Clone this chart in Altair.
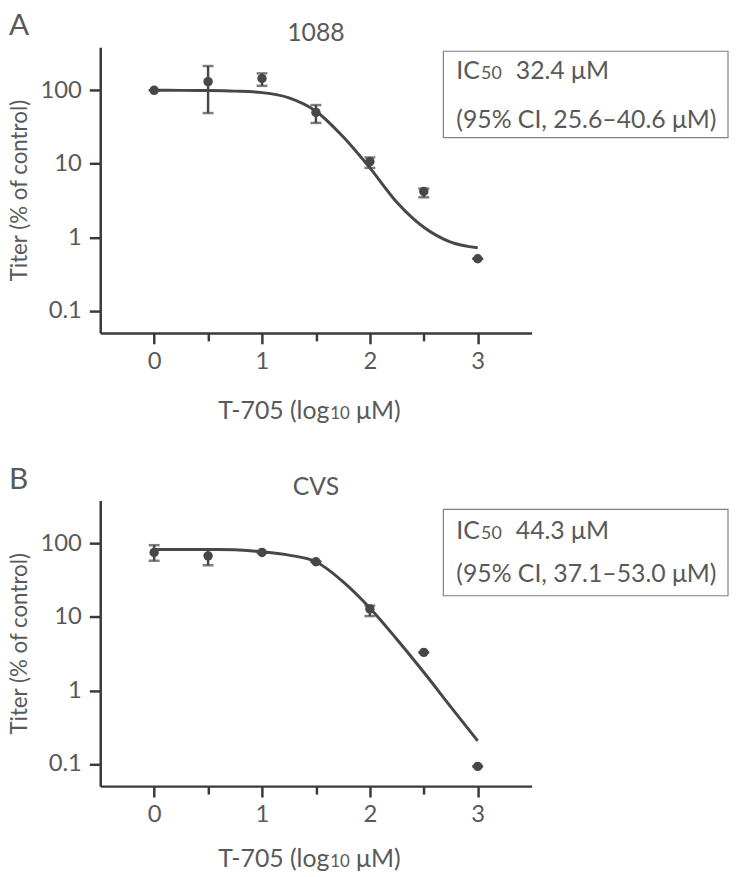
import altair as alt
import pandas as pd

# ---- data ----
dose = [0, 0.5, 1, 1.5, 2, 2.5, 3]

titer_1088 = [100, 131, 145, 50, 10.7, 4.2, 0.51]
low_1088 = [100, 49, 115, 36, 8.8, 3.5, 0.51]
high_1088 = [100, 214, 170, 63, 12.2, 4.6, 0.51]

titer_cvs = [75.6, 68, 75.7, 56.5, 12.9, 3.3, 0.093]
low_cvs = [58.3, 50.6, 75.7, 56.5, 10.3, 3.3, 0.093]
high_cvs = [95, 83, 75.7, 56.5, 14.3, 3.3, 0.093]

curve_x = [0, 0.25, 0.5, 0.75, 1, 1.25, 1.5, 1.75, 2, 2.25, 2.5, 2.75, 3]
curve_1088 = [100, 99.8, 99.3, 97.5, 93, 79, 52, 23.5, 8.8, 3.0, 1.37, 0.86, 0.72]
curve_cvs = [83, 83, 83, 82.5, 77, 69.5, 56.5, 30.4, 13.3, 4.98, 1.77, 0.60, 0.206]

x_ticks = [0, 0.5, 1, 1.5, 2, 2.5, 3]
y_ticks = [0.1, 1, 10, 100]

FONT = "Lato"
TEXT = "#595959"
INK = "#474747"
AXIS = "#3a3a3a"


def label(one, txt, x, y, size, align="left", baseline="alphabetic"):
    return alt.Chart(one).mark_text(
        align=align, baseline=baseline, font=FONT, fontSize=size, color=TEXT
    ).encode(x=alt.value(x), y=alt.value(y), text=alt.value(txt))


def panel(letter, title, y, lo, hi, cy, ic50, ci, box, t1y, t2y, xt_y):
    pts = pd.DataFrame({"x": dose, "y": y, "lo": lo, "hi": hi})
    cur = pd.DataFrame({"x": curve_x, "y": cy})
    one = pd.DataFrame({"k": [0]})

    xscale = alt.Scale(domain=[-0.5, 3.5], nice=False, zero=False)
    yscale = alt.Scale(type="log", domain=[0.05, 385], nice=False)

    xaxis = alt.Axis(
        values=x_ticks,
        labelExpr="datum.value % 1 == 0 ? format(datum.value, 'd') : ''",
        title=None,
        tickSize={"condition": {"test": "datum.value % 1 != 0", "value": 8}, "value": 11},
        labelPadding=6,
        grid=False,
    )
    yaxis = alt.Axis(
        values=y_ticks,
        format="~g",
        title="Titer (% of control)",
        titleFontSize=22.5,
        tickSize=11,
        labelPadding=8,
        titlePadding=9,
        grid=False,
    )

    def X(f):
        return alt.X(f, scale=xscale, axis=xaxis, title=None)

    def Y(f):
        return alt.Y(f, scale=yscale, axis=yaxis, title="Titer (% of control)")

    line = alt.Chart(cur).mark_line(color=INK, strokeWidth=3, interpolate="monotone").encode(
        x=X("x:Q"), y=Y("y:Q"),
    )
    bars = alt.Chart(pts).mark_rule(color=INK, strokeWidth=2.5).encode(
        x=X("x:Q"), y=Y("lo:Q"), y2="hi:Q",
    )
    cap_lo = alt.Chart(pts).mark_tick(color=INK, orient="horizontal", size=11, thickness=2.5).encode(
        x=X("x:Q"), y=Y("lo:Q"),
    )
    cap_hi = alt.Chart(pts).mark_tick(color=INK, orient="horizontal", size=11, thickness=2.5).encode(
        x=X("x:Q"), y=Y("hi:Q"),
    )
    dots = alt.Chart(pts).mark_circle(color=INK, size=90, opacity=1).encode(
        x=X("x:Q"), y=Y("y:Q"),
    )
    rect = alt.Chart(one).mark_rect(fill=None, stroke="#808080", strokeWidth=1.2).encode(
        x=alt.value(346), x2=alt.value(633), y=alt.value(box[0]), y2=alt.value(box[1])
    )
    texts = [
        label(one, title, 217.5, -6, 25, align="center"),
        label(one, "IC", 359, t1y, 25),
        label(one, "50", 384, t1y, 18),
        label(one, ic50, 419, t1y, 25),
        label(one, ci, 359, t2y, 25),
        label(one, "T-705 (log", 231, xt_y, 25, align="right"),
        label(one, "10", 232, xt_y, 17),
        label(one, "μM)", 258, xt_y, 25),
        label(one, letter, -92, -36, 30, baseline="top"),
    ]

    return alt.layer(line, bars, cap_lo, cap_hi, dots, rect, *texts).properties(
        width=435,
        height=288,
    )


a = panel("A", "1088", titer_1088, low_1088, high_1088, curve_1088,
          "32.4 μM", "(95% CI, 25.6–40.6 μM)", (4, 91), 32, 81, 375)
b = panel("B", "CVS", titer_cvs, low_cvs, high_cvs, curve_cvs,
          "44.3 μM", "(95% CI, 37.1–53.0 μM)", (9, 96), 39, 82, 370)

chart = alt.vconcat(a, b, spacing=41).properties(
    padding={"left": 0, "top": 0, "right": 0, "bottom": 0}
).configure(
    padding={"left": 0, "top": 0, "right": 0, "bottom": 0}
).configure_view(
    stroke=None
).configure_axis(
    domainColor=AXIS, domainWidth=2.5, tickColor=AXIS, tickWidth=2.5,
    labelFont=FONT, labelFontSize=24, labelColor=TEXT,
    titleFont=FONT, titleFontSize=24, titleColor=TEXT, titleFontWeight="normal",
)

chart.save("out.html", embed_options={"renderer": "svg", "actions": False})
